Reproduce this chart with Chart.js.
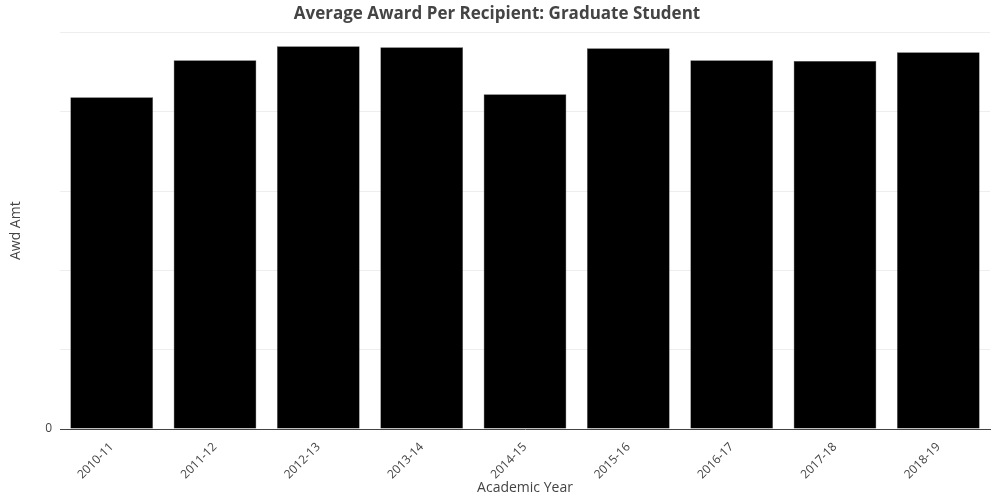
<!DOCTYPE html>
<html lang="en">
<head>
<meta charset="UTF-8">
<title>Average Award Per Recipient</title>
<script src="https://cdn.jsdelivr.net/npm/chart.js"></script>
<style>
    body { margin: 0; background: #fff; }
    canvas { display: block; }
</style>
</head>
<body>
<canvas id="chart" width="1000" height="500"></canvas>
<script>
    const years = ['2010-11', '2011-12', '2012-13', '2013-14', '2014-15', '2015-16', '2016-17', '2017-18', '2018-19'];
    const awdAmt = [21500, 23900, 24800, 24740, 21700, 24680, 23900, 23840, 24420];

    const font = { family: '"Open Sans", sans-serif', size: 12 };

    new Chart(document.getElementById('chart'), {
        type: 'bar',
        data: {
            labels: years,
            datasets: [{
                label: 'Awd Amt',
                data: awdAmt,
                backgroundColor: '#000',
                borderColor: '#444',
                borderWidth: 0.5,
                barPercentage: 0.8,
                categoryPercentage: 1
            }]
        },
        options: {
            responsive: false,
            animation: false,
            layout: { padding: { top: 4, right: 10, left: 4, bottom: 4 } },
            plugins: {
                legend: { display: false },
                tooltip: { enabled: false },
                title: {
                    display: true,
                    text: 'Average Award Per Recipient: Graduate Student',
                    color: '#444',
                    font: { family: font.family, size: 17 },
                    padding: { top: 0, bottom: 8 }
                }
            },
            scales: {
                x: {
                    grid: { display: false },
                    border: { color: '#444' },
                    ticks: { color: '#444', font: font, maxRotation: 45, minRotation: 45 },
                    title: { display: true, text: 'Academic Year', color: '#444', font: { family: font.family, size: 14 }, padding: 0 },
                    afterFit: s => { s.height = 67; }
                },
                y: {
                    min: 0,
                    max: 25700,
                    grid: { color: '#eee', drawTicks: false },
                    border: { display: false },
                    ticks: {
                        stepSize: 5000,
                        color: '#444',
                        font: font,
                        padding: 8,
                        callback: v => v % 5000 === 0 ? (v === 0 ? '0' : v / 1000 + 'k') : ''
                    },
                    title: { display: true, text: 'Awd Amt', color: '#444', font: { family: font.family, size: 14 } },
                    afterFit: s => { s.width = 56; }
                }
            }
        }
    });
</script>
</body>
</html>
